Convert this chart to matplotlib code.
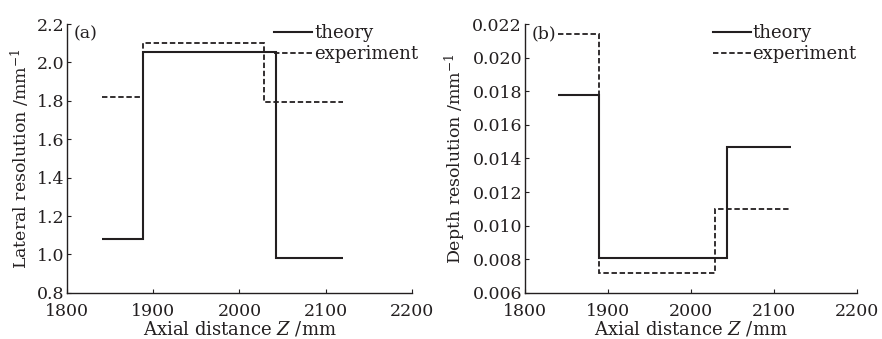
import numpy as np
import matplotlib
matplotlib.use("Agg")
import matplotlib.pyplot as plt

plt.rcParams['font.family'] = ['DejaVu Serif']
plt.rcParams['mathtext.fontset'] = 'dejavuserif'

# step edges (mm) and levels
theory_a_z = [1840, 1888, 2042, 2120]
theory_a = [1.08, 2.055, 0.98]
exp_a_z = [1840, 1888, 2028, 2120]
exp_a = [1.82, 2.10, 1.795]

theory_b_z = [1840, 1889, 2043, 2120]
theory_b = [0.0178, 0.00808, 0.0147]
exp_b_z = [1840, 1889, 2029, 2120]
exp_b = [0.0214, 0.0072, 0.011]

x_ticks = [1800, 1900, 2000, 2100, 2200]
a_ticks = [0.8, 1.0, 1.2, 1.4, 1.6, 1.8, 2.0, 2.2]
b_ticks = [0.006, 0.008, 0.010, 0.012, 0.014, 0.016, 0.018, 0.020, 0.022]

ink = '#231f20'
fs = 12.5

fig = plt.figure(figsize=(8.82, 3.39), dpi=100)
ax1 = fig.add_axes([0.076, 0.136, 0.391, 0.793])
ax2 = fig.add_axes([0.595, 0.136, 0.377, 0.793])

panels = [
    (ax1, theory_a_z, theory_a, exp_a_z, exp_a, a_ticks, '%.1f',
     'Lateral resolution /mm$^{-1}$', '(a)', 1.05),
    (ax2, theory_b_z, theory_b, exp_b_z, exp_b, b_ticks, '%.3f',
     'Depth resolution /mm$^{-1}$', '(b)', 1.03),
]

for ax, tz, tv, ez, ev, yt, fmt, ylab, tag, lx in panels:
    ax.stairs(tv, tz, baseline=None, color=ink, lw=1.5, label='theory')
    ax.stairs(ev, ez, baseline=None, color=ink, lw=1.3,
              linestyle=(0, (3, 1.5)), label='experiment')
    ax.set_xlim(1800, 2200)
    ax.set_ylim(yt[0], yt[-1])
    ax.set_xticks(x_ticks)
    ax.set_yticks(yt)
    ax.set_yticklabels([fmt % v for v in yt])
    for s in ['top', 'right']:
        ax.spines[s].set_visible(False)
    for s in ['left', 'bottom']:
        ax.spines[s].set_color(ink)
        ax.spines[s].set_linewidth(1.0)
    ax.tick_params(direction='in', length=3, width=0.8, colors=ink,
                   labelsize=fs)
    ax.tick_params(axis='y', pad=2)
    ax.tick_params(axis='x', pad=7)
    ax.set_xlabel('Axial distance $Z$ /mm', fontsize=fs + 0.5, color=ink,
                  labelpad=0)
    ax.set_ylabel(ylab, fontsize=fs, color=ink, labelpad=3)
    ax.text(0.02, 0.995, tag, transform=ax.transAxes, fontsize=fs,
            color=ink, va='top', ha='left')
    ax.legend(loc='upper right', bbox_to_anchor=(lx, 1.04), frameon=False,
              fontsize=13, handlelength=2.1, handletextpad=0.1,
              labelspacing=0.15, borderaxespad=0.2, labelcolor=ink)

fig.savefig('out.png', dpi=100)
